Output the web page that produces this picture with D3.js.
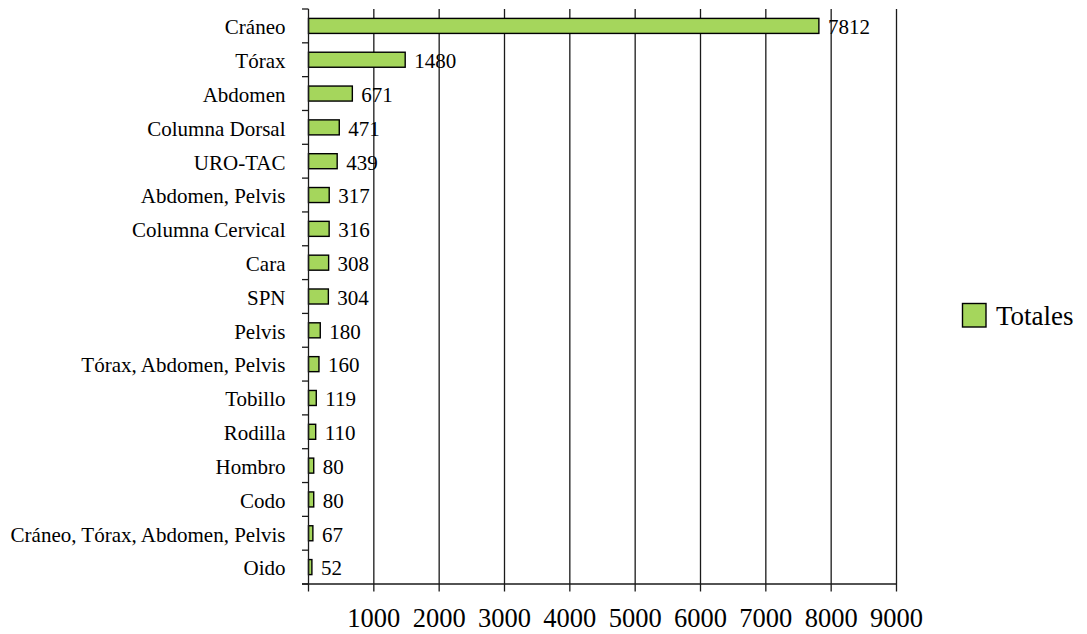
<!DOCTYPE html>
<html>
<head>
<meta charset="utf-8">
<script src="https://cdn.jsdelivr.net/npm/d3@7"></script>
<style>
  html, body { margin: 0; padding: 0; background: #fff; }
  svg { display: block; }
  text { font-family: "Liberation Serif", "Times New Roman", serif; fill: #000; }
</style>
</head>
<body>
<svg id="chart" width="1087" height="634"></svg>
<script>
// Estudios por región anatómica
const categories = [
  "Cráneo", "Tórax", "Abdomen", "Columna Dorsal", "URO-TAC",
  "Abdomen, Pelvis", "Columna Cervical", "Cara", "SPN", "Pelvis",
  "Tórax, Abdomen, Pelvis", "Tobillo", "Rodilla", "Hombro", "Codo",
  "Cráneo, Tórax, Abdomen, Pelvis", "Oido"
];
const totales = [7812, 1480, 671, 471, 439, 317, 316, 308, 304, 180, 160, 119, 110, 80, 80, 67, 52];
const xTicks = [1000, 2000, 3000, 4000, 5000, 6000, 7000, 8000, 9000];
const seriesName = "Totales";

const svg = d3.select("#chart");
const plotLeft = 308.5, plotRight = 896.5, plotTop = 9, plotBottom = 584;

const x = d3.scaleLinear().domain([0, 9000]).range([plotLeft, plotRight]);
const y = d3.scaleBand().domain(categories).range([plotTop, plotBottom])
  .paddingInner(0.556).paddingOuter(0.278);

const lineColor = "#1a1a1a";

// Vertical gridlines
svg.append("g").selectAll("line").data(xTicks).join("line")
  .attr("x1", d => x(d)).attr("x2", d => x(d))
  .attr("y1", plotTop).attr("y2", plotBottom)
  .attr("stroke", lineColor).attr("stroke-width", 1.3);

// Bars
svg.append("g").selectAll("rect").data(categories).join("rect")
  .attr("x", x(0))
  .attr("y", d => y(d))
  .attr("width", (d, i) => x(totales[i]) - x(0))
  .attr("height", y.bandwidth())
  .attr("fill", "#a5d65c")
  .attr("stroke", "#000")
  .attr("stroke-width", 1.4);

// Value labels
svg.append("g").selectAll("text").data(categories).join("text")
  .attr("x", (d, i) => x(totales[i]) + 9)
  .attr("y", d => y(d) + y.bandwidth() / 2 + 1)
  .attr("dy", "0.35em")
  .attr("font-size", "21px")
  .text((d, i) => totales[i]);

// Category axis
const yAxisG = svg.append("g");
yAxisG.append("line")
  .attr("x1", plotLeft).attr("x2", plotLeft).attr("y1", plotTop).attr("y2", plotBottom)
  .attr("stroke", lineColor).attr("stroke-width", 1.3);
const boundaries = d3.range(categories.length + 1).map(i => plotTop + i * y.step());
yAxisG.selectAll("line.tick").data(boundaries).join("line")
  .attr("class", "tick")
  .attr("x1", plotLeft - 6.5).attr("x2", plotLeft)
  .attr("y1", d => d).attr("y2", d => d)
  .attr("stroke", lineColor).attr("stroke-width", 1.3);
yAxisG.selectAll("text").data(categories).join("text")
  .attr("x", 285.5)
  .attr("y", d => y(d) + y.bandwidth() / 2 + 1)
  .attr("dy", "0.35em")
  .attr("text-anchor", "end")
  .attr("font-size", "21px")
  .text(d => d);

// Value axis
const xAxisG = svg.append("g");
xAxisG.append("line")
  .attr("x1", plotLeft - 6.5).attr("x2", plotRight).attr("y1", plotBottom).attr("y2", plotBottom)
  .attr("stroke", lineColor).attr("stroke-width", 1.3);
xAxisG.selectAll("line.tick").data([0].concat(xTicks)).join("line")
  .attr("class", "tick")
  .attr("x1", d => x(d)).attr("x2", d => x(d))
  .attr("y1", plotBottom).attr("y2", plotBottom + 7.5)
  .attr("stroke", lineColor).attr("stroke-width", 1.3);
xAxisG.selectAll("text").data(xTicks).join("text")
  .attr("x", d => x(d))
  .attr("y", 627)
  .attr("text-anchor", "middle")
  .attr("font-size", "26.5px")
  .text(d => d);

// Legend
const legend = svg.append("g");
legend.append("rect")
  .attr("x", 962.5).attr("y", 303.5).attr("width", 23.5).attr("height", 23.5)
  .attr("fill", "#a5d65c").attr("stroke", "#000").attr("stroke-width", 1.4);
legend.append("text")
  .attr("x", 996).attr("y", 316).attr("dy", "0.35em")
  .attr("font-size", "27px")
  .text(seriesName);
</script>
</body>
</html>
